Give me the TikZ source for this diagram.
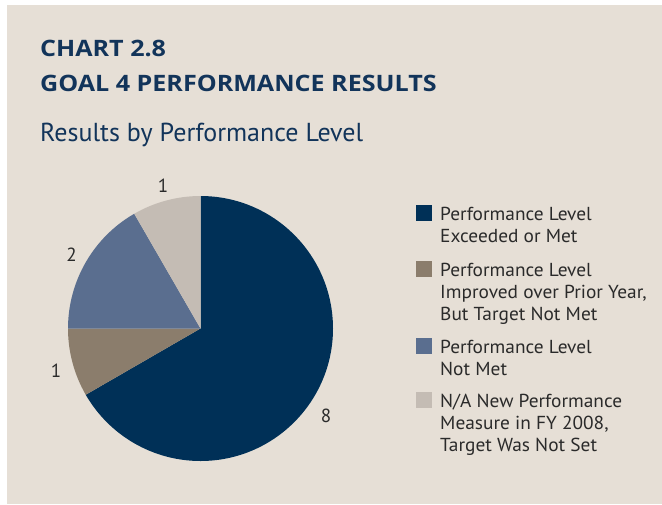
\documentclass[tikz,border=0pt]{standalone}
\usepackage{fontspec}
\setmainfont{PT Sans}
\newfontfamily\ttlfont[FakeStretch=1.11]{Open Sans}
\newfontfamily\legfont[FakeStretch=1.03]{PT Sans}
\begin{document}
\definecolor{bgc}{HTML}{E6DFD6}
\definecolor{navy}{HTML}{003057}
\definecolor{brn}{HTML}{8B7D6C}
\definecolor{blu}{HTML}{5A6E8F}
\definecolor{gry}{HTML}{C4BCB4}
\definecolor{ttl}{HTML}{12345A}
\definecolor{txt}{HTML}{2A2A2A}
\begin{tikzpicture}[x=1pt,y=-1pt,
  legbox/.style={fill=#1,minimum size=16pt,inner sep=0pt,anchor=north west},
  legtext/.style={anchor=north west,align=left,inner sep=0pt,text=txt,font=\legfont\fontsize{18.8}{22}\selectfont},
  numlab/.style={text=txt,font=\fontsize{19}{22}\selectfont,inner sep=0pt},
  titletext/.style={anchor=base west,inner sep=0pt,text=ttl,font=\ttlfont\fontsize{22.6}{23}\selectfont\bfseries}]
\useasboundingbox (0,0) rectangle (662,504);
\fill[white] (0,0) rectangle (662,504);
\fill[bgc] (7,5) rectangle (662,504);
% titles
\node[titletext] (t1) at (40,56) {CHART 2.8};
\node[titletext] (t2) at (40,91) {GOAL 4 PERFORMANCE RESULTS};
\node[anchor=base west,inner sep=0pt,text=ttl,font=\fontsize{26}{26}\selectfont] (t3) at (40,141) {Results by Performance Level};
% pie
\coordinate (c) at (200.5,328.5);
\fill[navy] (c) -- ++(270:132.5) arc[start angle=270,end angle=510,radius=132.5] -- cycle;
\fill[brn] (c) -- ++(150:132.5) arc[start angle=150,end angle=180,radius=132.5] -- cycle;
\fill[blu] (c) -- ++(180:132.5) arc[start angle=180,end angle=240,radius=132.5] -- cycle;
\fill[gry] (c) -- ++(240:132.5) arc[start angle=240,end angle=270,radius=132.5] -- cycle;
\node[numlab] (n1) at (163,186) {1};
\node[numlab] (n2) at (71.5,255) {2};
\node[numlab] (n3) at (56,371) {1};
\node[numlab] (n4) at (326,416) {8};
% legend
\node[legbox=navy] (b1) at (416,205) {};
\node[legbox=brn] (b2) at (416,261) {};
\node[legbox=blu] (b3) at (416,338) {};
\node[legbox=gry] (b4) at (416,392) {};
\node[legtext] (l1) at (440,206.5) {Performance Level\\Exceeded or Met};
\node[legtext] (l2) at (440,262.5) {Performance Level\\Improved over Prior Year,\\But Target Not Met};
\node[legtext] (l3) at (440,339.5) {Performance Level\\Not Met};
\node[legtext] (l4) at (440,393.5) {N/A New Performance\\Measure in FY 2008,\\Target Was Not Set};
\end{tikzpicture}
\end{document}
